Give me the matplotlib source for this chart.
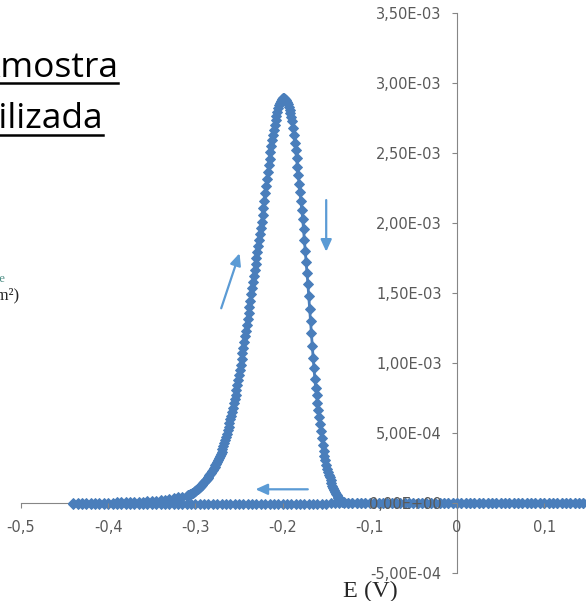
import matplotlib
matplotlib.use("Agg")
import matplotlib.pyplot as plt
from matplotlib.ticker import FixedLocator, FuncFormatter
from matplotlib.lines import Line2D

# ---------------- data (E in V, current density in 1e-3 A/cm2) ----------------
# cathodic sweep (towards negative potentials), baseline
cathodic_e = [
    0.150, 0.145, 0.140, 0.135, 0.130, 0.125, 0.120, 0.115, 0.110, 0.105,
    0.100, 0.095, 0.090, 0.085, 0.080, 0.075, 0.070, 0.065, 0.060, 0.055,
    0.050, 0.045, 0.040, 0.035, 0.030, 0.025, 0.020, 0.015, 0.010, 0.005,
    0.000, -0.005, -0.010, -0.015, -0.020, -0.025, -0.030, -0.035, -0.040, -0.045,
    -0.050, -0.055, -0.060, -0.065, -0.070, -0.075, -0.080, -0.085, -0.090, -0.095,
    -0.100, -0.105, -0.110, -0.115, -0.120, -0.125, -0.130, -0.135, -0.140, -0.145,
    -0.150, -0.155, -0.160, -0.165, -0.170, -0.175, -0.180, -0.185, -0.190, -0.195,
    -0.200, -0.205, -0.210, -0.215, -0.220, -0.225, -0.230, -0.235, -0.240, -0.245,
    -0.250, -0.255, -0.260, -0.265, -0.270, -0.275, -0.280, -0.285, -0.290, -0.295,
    -0.300, -0.305, -0.310, -0.315, -0.320, -0.325, -0.330, -0.335, -0.340, -0.345,
    -0.350, -0.355, -0.360, -0.365, -0.370, -0.375, -0.380, -0.385, -0.390, -0.395,
    -0.400, -0.405, -0.410, -0.415, -0.420, -0.425, -0.430, -0.435, -0.440,
]
cathodic_i = [
    0.003, 0.002, 0.001, 0.001, 0.000, 0.000, 0.000, 0.000, 0.000, 0.000,
    0.000, 0.000, 0.000, 0.000, 0.000, 0.000, 0.000, 0.000, 0.000, 0.000,
    0.000, 0.000, 0.000, 0.000, 0.000, 0.000, 0.000, 0.000, 0.000, 0.000,
    0.000, 0.000, 0.000, 0.000, 0.000, 0.000, 0.000, 0.000, 0.000, 0.000,
    0.000, 0.000, 0.000, 0.000, -0.001, -0.001, -0.001, -0.001, -0.001, -0.001,
    -0.001, -0.001, -0.001, -0.001, -0.001, -0.001, -0.001, -0.001, -0.001, -0.001,
    -0.002, -0.002, -0.002, -0.002, -0.002, -0.002, -0.002, -0.002, -0.002, -0.002,
    -0.002, -0.002, -0.002, -0.002, -0.002, -0.002, -0.002, -0.002, -0.002, -0.002,
    -0.002, -0.002, -0.002, -0.002, -0.002, -0.002, -0.002, -0.002, -0.002, -0.002,
    -0.003, -0.003, -0.003, -0.003, -0.003, -0.003, -0.003, -0.003, -0.003, -0.003,
    -0.004, -0.004, -0.004, -0.004, -0.004, -0.004, -0.004, -0.004, -0.004, -0.004,
    -0.005, -0.005, -0.006, -0.006, -0.007, -0.007, -0.008, -0.008, -0.008,
]

# anodic sweep: foot before the stripping peak
foot_e = [
    -0.440, -0.435, -0.430, -0.425, -0.420, -0.415, -0.410, -0.405, -0.400, -0.395,
    -0.390, -0.385, -0.380, -0.375, -0.370, -0.365, -0.360, -0.355, -0.350, -0.345,
    -0.340, -0.335, -0.330, -0.325, -0.320, -0.315,
]
foot_i = [
    0.000, 0.001, 0.001, 0.002, 0.002, 0.003, 0.003, 0.004, 0.004, 0.005,
    0.006, 0.007, 0.008, 0.009, 0.010, 0.011, 0.012, 0.014, 0.016, 0.018,
    0.021, 0.025, 0.030, 0.036, 0.042, 0.048,
]

# anodic sweep: stripping peak
peak_e = [
    -0.310, -0.309, -0.308, -0.307, -0.306, -0.305, -0.304, -0.303, -0.302, -0.301,
    -0.300, -0.299, -0.298, -0.297, -0.296, -0.295, -0.294, -0.293, -0.292, -0.291,
    -0.290, -0.289, -0.288, -0.287, -0.286, -0.285, -0.284, -0.283, -0.282, -0.281,
    -0.280, -0.279, -0.278, -0.277, -0.276, -0.275, -0.274, -0.273, -0.272, -0.271,
    -0.270, -0.269, -0.268, -0.267, -0.266, -0.265, -0.264, -0.263, -0.262, -0.261,
    -0.260, -0.259, -0.258, -0.257, -0.256, -0.255, -0.254, -0.253, -0.252, -0.251,
    -0.250, -0.249, -0.248, -0.247, -0.246, -0.245, -0.244, -0.243, -0.242, -0.241,
    -0.240, -0.239, -0.238, -0.237, -0.236, -0.235, -0.234, -0.233, -0.232, -0.231,
    -0.230, -0.229, -0.228, -0.227, -0.226, -0.225, -0.224, -0.223, -0.222, -0.221,
    -0.220, -0.219, -0.218, -0.217, -0.216, -0.215, -0.214, -0.213, -0.212, -0.211,
    -0.210, -0.209, -0.208, -0.207, -0.206, -0.205, -0.204, -0.203, -0.202, -0.201,
    -0.200, -0.199, -0.198, -0.197, -0.196, -0.195, -0.194, -0.193, -0.192, -0.191,
    -0.190, -0.189, -0.188, -0.187, -0.186, -0.185, -0.184, -0.183, -0.182, -0.181,
    -0.180, -0.179, -0.178, -0.177, -0.176, -0.175, -0.174, -0.173, -0.172, -0.171,
    -0.170, -0.169, -0.168, -0.167, -0.166, -0.165, -0.164, -0.163, -0.162, -0.161,
    -0.160, -0.159, -0.158, -0.157, -0.156, -0.155, -0.154, -0.153, -0.152, -0.151,
    -0.150, -0.149, -0.148, -0.147, -0.146, -0.145, -0.144, -0.143, -0.142, -0.141,
    -0.140, -0.139, -0.138, -0.137, -0.136, -0.135, -0.134, -0.133, -0.132, -0.131,
    -0.130,
]
peak_i = [
    0.055, 0.058, 0.060, 0.062, 0.065, 0.067, 0.070, 0.075, 0.080, 0.085,
    0.090, 0.095, 0.100, 0.105, 0.111, 0.117, 0.123, 0.129, 0.136, 0.143,
    0.150, 0.157, 0.165, 0.173, 0.181, 0.190, 0.199, 0.208, 0.218, 0.228,
    0.238, 0.249, 0.260, 0.272, 0.284, 0.296, 0.309, 0.322, 0.336, 0.350,
    0.365, 0.385, 0.406, 0.428, 0.451, 0.474, 0.498, 0.523, 0.548, 0.574,
    0.600, 0.627, 0.655, 0.684, 0.714, 0.745, 0.777, 0.810, 0.844, 0.879,
    0.915, 0.952, 0.990, 1.030, 1.070, 1.111, 1.152, 1.193, 1.234, 1.276,
    1.318, 1.361, 1.404, 1.448, 1.492, 1.536, 1.580, 1.623, 1.666, 1.709,
    1.752, 1.795, 1.838, 1.880, 1.922, 1.964, 2.006, 2.060, 2.110, 2.160,
    2.215, 2.265, 2.315, 2.365, 2.415, 2.462, 2.508, 2.551, 2.592, 2.631,
    2.668, 2.703, 2.736, 2.767, 2.795, 2.820, 2.842, 2.861, 2.876, 2.887,
    2.894, 2.897, 2.895, 2.889, 2.880, 2.867, 2.851, 2.832, 2.810, 2.786,
    2.760, 2.732, 2.680, 2.628, 2.576, 2.524, 2.467, 2.405, 2.344, 2.283,
    2.221, 2.159, 2.096, 2.034, 1.957, 1.880, 1.803, 1.724, 1.645, 1.566,
    1.478, 1.390, 1.302, 1.214, 1.125, 1.041, 0.964, 0.887, 0.822, 0.770,
    0.718, 0.666, 0.615, 0.566, 0.517, 0.468, 0.419, 0.370, 0.338, 0.307,
    0.276, 0.246, 0.226, 0.205, 0.185, 0.164, 0.144, 0.124, 0.108, 0.093,
    0.078, 0.065, 0.056, 0.047, 0.038, 0.029, 0.020, 0.015, 0.011, 0.008,
    0.006,
]

# anodic sweep: tail after the peak
tail_e = [
    -0.125, -0.120, -0.115, -0.110, -0.105, -0.100, -0.095, -0.090, -0.085, -0.080,
    -0.075, -0.070, -0.065, -0.060, -0.055, -0.050, -0.045, -0.040, -0.035, -0.030,
    -0.025, -0.020, -0.015, -0.010, -0.005, 0.000, 0.005, 0.010, 0.015, 0.020,
    0.025, 0.030, 0.035, 0.040, 0.045, 0.050, 0.055, 0.060, 0.065, 0.070,
    0.075, 0.080, 0.085, 0.090, 0.095, 0.100, 0.105, 0.110, 0.115, 0.120,
    0.125, 0.130, 0.135, 0.140, 0.145, 0.150,
]
tail_i = [
    0.004, 0.003, 0.003, 0.002, 0.002, 0.001, 0.001, 0.001, 0.001, 0.000,
    0.000, 0.000, 0.000, 0.000, 0.000, 0.000, 0.000, 0.000, 0.000, 0.000,
    0.000, 0.000, 0.000, 0.000, 0.000, 0.000, 0.000, 0.000, 0.000, 0.000,
    0.000, 0.000, 0.000, 0.000, 0.000, 0.000, 0.000, 0.000, 0.000, 0.000,
    0.000, 0.000, 0.000, 0.000, 0.000, 0.000, 0.000, 0.000, 0.000, 0.000,
    0.000, 0.000, 0.001, 0.002, 0.004, 0.006,
]

x_ticks = [-0.5, -0.4, -0.3, -0.2, -0.1, 0.0, 0.1]
y_ticks = [-5e-4, 0.0, 5e-4, 1e-3, 1.5e-3, 2e-3, 2.5e-3, 3e-3, 3.5e-3]
i_unit = 1e-3

title_lines = ["Amostra", "utilizada"]
x_label = "E (V)"

# ---------------- styling ----------------
BLUE = "#4a7ebb"
ARROW = "#5b9bd5"
AXIS = "#868686"
LABEL = "#595959"
W, H = 586, 601

fig = plt.figure(figsize=(W / 100, H / 100), dpi=100)
fig.patch.set_facecolor("white")

# axes: E=0 at px 457, 872 px per volt; I=0 at px 503.3, 140 px per 1e-3
x_left_px, x_right_px = 21.0, 631.4
y_top_px, y_bot_px = 13.3, 573.3
ax = fig.add_axes([x_left_px / W, 1 - y_bot_px / H,
                   (x_right_px - x_left_px) / W, (y_bot_px - y_top_px) / H])
ax.set_xlim(-0.5, 0.2)
ax.set_ylim(-5e-4, 3.5e-3)
ax.patch.set_visible(False)

for side in ("top", "right"):
    ax.spines[side].set_visible(False)
ax.spines["left"].set_position(("data", 0))
ax.spines["bottom"].set_position(("data", 0))
for side in ("left", "bottom"):
    ax.spines[side].set_color(AXIS)
    ax.spines[side].set_linewidth(0.8)
    ax.spines[side].set_zorder(1)

ax.xaxis.set_major_locator(FixedLocator(x_ticks))
ax.yaxis.set_major_locator(FixedLocator(y_ticks))


def fmt_x(v, _pos):
    if abs(v) < 1e-9:
        return "0"
    s = ("%.1f" % v).rstrip("0").rstrip(".")
    return s.replace(".", ",")


def fmt_y(v, _pos):
    return ("%.2E" % v).replace(".", ",")


ax.xaxis.set_major_formatter(FuncFormatter(fmt_x))
ax.yaxis.set_major_formatter(FuncFormatter(fmt_y))
ax.tick_params(axis="y", direction="out", length=3.6, width=0.8, color=AXIS,
               pad=7.5, labelsize=10.5, labelcolor=LABEL)
ax.tick_params(axis="x", direction="out", length=3.6, width=0.8, color=AXIS,
               pad=8.5, labelsize=10.5, labelcolor=LABEL)
ax.xaxis.set_zorder(4)
ax.yaxis.set_zorder(4)

line_kw = dict(color=BLUE, lw=2.0, marker="D", ms=5.0, mfc=BLUE, mec=BLUE,
               mew=0.7, zorder=3)
ax.plot(cathodic_e, [v * i_unit for v in cathodic_i], **line_kw)
anodic_e = foot_e + peak_e + tail_e
anodic_i = foot_i + peak_i + tail_i
ax.plot(anodic_e, [v * i_unit for v in anodic_i], **line_kw)

# scan-direction arrows
arrow_kw = dict(arrowstyle="-|>,head_length=0.55,head_width=0.25",
                color=ARROW, lw=1.6, shrinkA=0, shrinkB=0, mutation_scale=13)
ax.annotate("", xy=(-0.2494, 1.786e-3), xytext=(-0.2704, 1.393e-3),
            arrowprops=arrow_kw, zorder=5)
ax.annotate("", xy=(-0.150, 1.797e-3), xytext=(-0.150, 2.166e-3),
            arrowprops=arrow_kw, zorder=5)
ax.annotate("", xy=(-0.2311, 0.10e-3), xytext=(-0.1711, 0.10e-3),
            arrowprops=arrow_kw, zorder=5)

# axis title (serif, slide style)
fig.text(370.5 / W, 1 - 597 / H, x_label, ha="center", va="baseline",
         family="Liberation Serif", fontsize=17.5, color="#262626")

# slide text partly cut at the left edge
fig.text(19 / W, 1 - 299 / H, "(A/cm\u00b2)", ha="right", va="baseline",
         family="Liberation Serif", fontsize=12, color="#262626")
fig.text(5 / W, 1 - 282 / H, "corrente", ha="right", va="baseline",
         family="Liberation Serif", fontsize=9, color="#4f8f86")

fig.text(118 / W, 1 - 77.3 / H, title_lines[0], ha="right", va="baseline",
         family="Open Sans", fontsize=25.5, color="black")
fig.text(103 / W, 1 - 128.3 / H, title_lines[1], ha="right", va="baseline",
         family="Open Sans", fontsize=25.5, color="black")
fig.add_artist(Line2D([0, 118 / W], [1 - 83 / H, 1 - 83 / H], color="black", lw=1.8))
fig.add_artist(Line2D([0, 103 / W], [1 - 135 / H, 1 - 135 / H], color="black", lw=1.8))

fig.savefig("out.png", dpi=100, facecolor="white")
